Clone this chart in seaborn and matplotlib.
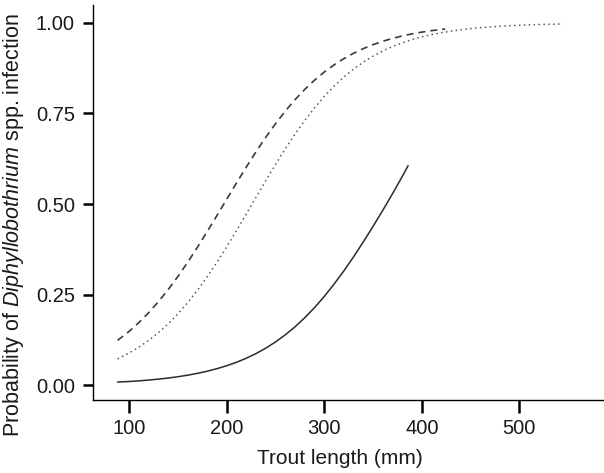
import numpy as np
import pandas as pd
import seaborn as sns
import matplotlib
matplotlib.use("Agg")
import matplotlib.pyplot as plt

# Values (trout length in mm, probability)
solid_x = [88, 100, 110, 120, 130, 140, 150, 160, 170, 180, 190, 200, 210, 220, 230, 240,
           250, 260, 270, 280, 290, 300, 310, 320, 330, 340, 350, 360, 370, 380, 386]
solid_y = [0.0083, 0.0097, 0.0115, 0.0137, 0.0163, 0.0193, 0.0229, 0.0272, 0.0322, 0.0382,
           0.0452, 0.0533, 0.0628, 0.0740, 0.0869, 0.1018, 0.1190, 0.1386, 0.1608, 0.1859,
           0.2138, 0.2447, 0.2785, 0.3150, 0.3539, 0.3952, 0.4380, 0.4825, 0.5285, 0.5760,
           0.6060]

dashed_x = [88, 100, 110, 120, 130, 140, 150, 160, 170, 180, 190, 200, 210, 220, 230, 240,
            250, 260, 270, 280, 290, 300, 310, 320, 330, 340, 350, 360, 370, 380, 390, 400,
            410, 420, 424]
dashed_y = [0.1233, 0.1485, 0.1728, 0.2000, 0.2304, 0.2639, 0.3003, 0.3394, 0.3808, 0.4241,
            0.4685, 0.5135, 0.5582, 0.6020, 0.6443, 0.6844, 0.7219, 0.7566, 0.7882, 0.8167,
            0.8421, 0.8646, 0.8843, 0.9015, 0.9163, 0.9292, 0.9401, 0.9495, 0.9575, 0.9642,
            0.9699, 0.9748, 0.9788, 0.9823, 0.9834]

dotted_x = [88, 100, 110, 120, 130, 140, 150, 160, 170, 180, 190, 200, 210, 220, 230, 240,
            250, 260, 270, 280, 290, 300, 310, 320, 330, 340, 350, 360, 370, 380, 390, 400,
            410, 420, 430, 440, 450, 460, 470, 480, 490, 500, 510, 520, 530, 545]
dotted_y = [0.0722, 0.0886, 0.1047, 0.1234, 0.1448, 0.1692, 0.1969, 0.2278, 0.2619, 0.2992,
            0.3394, 0.3820, 0.4266, 0.4723, 0.5185, 0.5644, 0.6092, 0.6523, 0.6930, 0.7308,
            0.7656, 0.7972, 0.8255, 0.8506, 0.8726, 0.8918, 0.9084, 0.9227, 0.9349, 0.9453,
            0.9541, 0.9616, 0.9679, 0.9731, 0.9775, 0.9813, 0.9844, 0.9870, 0.9891, 0.9910,
            0.9925, 0.9937, 0.9948, 0.9957, 0.9964, 0.9973]

x_ticks = [100, 200, 300, 400, 500]
y_ticks = [0.00, 0.25, 0.50, 0.75, 1.00]
y_tick_labels = ["0.00", "0.25", "0.50", "0.75", "1.00"]

sns.set_theme(style="ticks")
plt.rcParams['font.family'] = ['Liberation Sans', 'DejaVu Sans']
plt.rcParams['mathtext.fontset'] = 'custom'
plt.rcParams['mathtext.rm'] = 'Liberation Sans'
plt.rcParams['mathtext.it'] = 'Liberation Sans:italic'

fig = plt.figure(figsize=(6.04, 4.73), dpi=100)
ax = fig.add_axes([93 / 604, 73 / 473, 1 - 93 / 604, 395 / 473])

df_s = pd.DataFrame({"x": solid_x, "y": solid_y})
df_d = pd.DataFrame({"x": dashed_x, "y": dashed_y})
df_o = pd.DataFrame({"x": dotted_x, "y": dotted_y})

sns.lineplot(data=df_s, x="x", y="y", ax=ax, color="#2b2b2b", linewidth=1.1, linestyle="-")
sns.lineplot(data=df_d, x="x", y="y", ax=ax, color="#3a3a3a", linewidth=1.2,
             linestyle=(0, (4.2, 3.0)))
sns.lineplot(data=df_o, x="x", y="y", ax=ax, color="#5a5a5a", linewidth=1.1,
             linestyle=(0, (1, 2.2)))

ax.set_xlim(62.8, 586.9)
ax.set_ylim(-0.0414, 1.0497)
ax.set_xticks(x_ticks)
ax.set_yticks(y_ticks)
ax.set_yticklabels(y_tick_labels)

for side in ["top", "right"]:
    ax.spines[side].set_visible(False)
for side in ["left", "bottom"]:
    ax.spines[side].set_linewidth(1.0)
    ax.spines[side].set_color("black")

ax.tick_params(axis="both", direction="out", width=1.8, color="black",
               labelsize=14.5, labelcolor="#1a1a1a")
ax.tick_params(axis="x", length=9, pad=4.5)
ax.tick_params(axis="y", length=7.5, pad=5.5)

ax.set_xlabel("Trout length (mm)", fontsize=15, color="#1a1a1a")
ax.set_ylabel(r"Probability of $\it{Diphyllobothrium}$ spp. infection", fontsize=15.5,
              color="#1a1a1a")
ax.xaxis.set_label_coords((340 - 93) / 511, (400 - 468) / 395)
ax.xaxis.label.set_va("bottom")
ax.yaxis.set_label_coords((26 - 93) / 511, (400 - 225) / 395)

fig.savefig("out.png", dpi=100)
